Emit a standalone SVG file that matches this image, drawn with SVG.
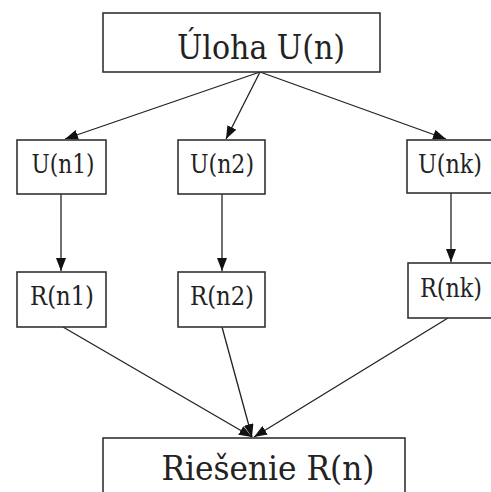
<svg xmlns="http://www.w3.org/2000/svg" width="491" height="492" viewBox="0 0 491 492">
<defs>
<style>
.box{fill:#fff;stroke:#333;stroke-width:1.6}
text{font-family:'DejaVu Serif','Liberation Serif',serif;fill:#222;text-anchor:middle}
.big{font-size:34px}
.sm{font-size:26px}
.c{stroke:#222;stroke-width:1.3;fill:none;marker-end:url(#ah)}
</style>
<marker id="ah" markerUnits="userSpaceOnUse" markerWidth="14" markerHeight="10" refX="13" refY="5" orient="auto">
<path d="M0,0 L13,5 L0,10 Z" fill="#111"/>
</marker>
</defs>
<rect width="491" height="492" fill="#fff"/>
<g id="connectors">
<line class="c" x1="260" y1="72" x2="65" y2="139"/>
<line class="c" x1="260" y1="72" x2="226" y2="139"/>
<line class="c" x1="260" y1="72" x2="446" y2="139"/>
<line class="c" x1="61" y1="194" x2="61" y2="271"/>
<line class="c" x1="222" y1="194" x2="222" y2="271"/>
<line class="c" x1="451" y1="193" x2="451" y2="262"/>
<line class="c" x1="63" y1="327" x2="252" y2="437"/>
<line class="c" x1="222" y1="327" x2="252" y2="437"/>
<line class="c" x1="448" y1="318" x2="254" y2="437"/>
</g>
<g id="uloha"><rect class="box" x="103" y="13" width="277" height="59"/><text class="big" x="261" y="59" textLength="168" lengthAdjust="spacingAndGlyphs">Úloha U(n)</text></g>
<g id="un1"><rect class="box" x="17" y="140" width="89" height="54"/><text class="sm" x="63" y="173" textLength="63" lengthAdjust="spacingAndGlyphs">U(n1)</text></g>
<g id="un2"><rect class="box" x="178" y="140" width="87" height="54"/><text class="sm" x="222" y="173" textLength="64" lengthAdjust="spacingAndGlyphs">U(n2)</text></g>
<g id="unk"><rect class="box" x="407" y="140" width="90" height="53"/><text class="sm" x="450" y="173" textLength="64" lengthAdjust="spacingAndGlyphs">U(nk)</text></g>
<g id="rn1"><rect class="box" x="17" y="272" width="89" height="55"/><text class="sm" x="62" y="305" textLength="64" lengthAdjust="spacingAndGlyphs">R(n1)</text></g>
<g id="rn2"><rect class="box" x="178" y="272" width="87" height="55"/><text class="sm" x="222" y="305" textLength="64" lengthAdjust="spacingAndGlyphs">R(n2)</text></g>
<g id="rnk"><rect class="box" x="408" y="263" width="90" height="55"/><text class="sm" x="451" y="297" textLength="62" lengthAdjust="spacingAndGlyphs">R(nk)</text></g>
<g id="riesenie"><rect class="box" x="103" y="438" width="302" height="70"/><text class="big" x="268" y="480" textLength="213" lengthAdjust="spacingAndGlyphs">Riešenie R(n)</text></g>
</svg>
